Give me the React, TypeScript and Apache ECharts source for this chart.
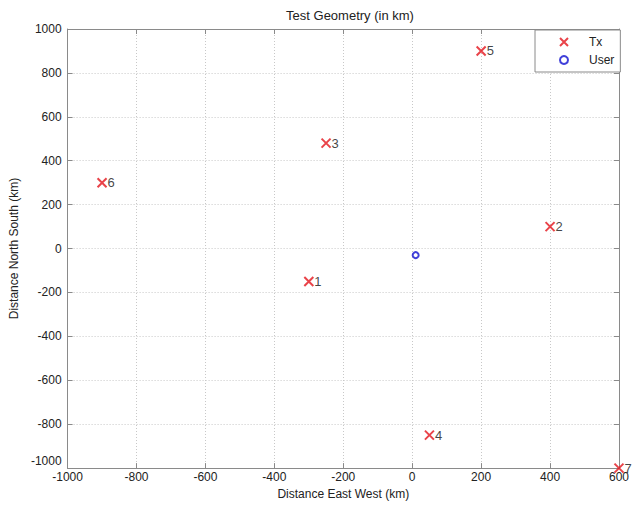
import React, { useEffect, useRef } from "react";
import * as echarts from "echarts";

const txNames = ["1", "2", "3", "4", "5", "6", "7"];
const txX = [-300, 400, -250, 50, 200, -900, 600];
const txY = [-150, 100, 480, -850, 900, 300, -1000];
const userX = [10];
const userY = [-30];
const xMin = -1000, xMax = 600, yMin = -1000, yMax = 1000, step = 200;

const FONT = "Liberation Sans, Arial, sans-serif";
const CROSS = "path://M0,0L10,10M0,10L10,0";

export default function App() {
  const ref = useRef<HTMLDivElement>(null);
  useEffect(() => {
    if (!ref.current) return;
    const chart = echarts.init(ref.current, undefined, { renderer: "svg" });
    const axisLine = { show: true, onZero: false, lineStyle: { color: "#8a8a8a", width: 1 } };
    const tick = { show: true, inside: true, length: 5, lineStyle: { color: "#8a8a8a" } };
    const label = { color: "#222", fontSize: 12, fontFamily: FONT };
    const split = { show: true, lineStyle: { color: "#c8c8c8", type: [1, 2] as any, width: 1 } };
    chart.setOption({
      animation: false,
      backgroundColor: "#fff",
      textStyle: { fontFamily: FONT },
      title: {
        text: "Test Geometry (in km)",
        left: 345,
        textAlign: "center",
        top: 4,
        textStyle: { fontSize: 13, fontWeight: "normal", color: "#222", fontFamily: FONT },
      },
      grid: { left: 62, top: 29, right: 9, bottom: 35, containLabel: false },
      legend: {
        left: 535,
        top: 30,
        orient: "vertical",
        backgroundColor: "#fff",
        borderColor: "#8a8a8a",
        borderWidth: 1,
        borderRadius: 0,
        padding: [6, 6, 6, 24],
        itemWidth: 8,
        itemHeight: 8,
        itemGap: 6,
        textStyle: { fontSize: 12, color: "#222", fontFamily: FONT, padding: [0, 0, 0, 16] },
        data: ["Tx", "User"],
      },
      xAxis: [
        {
          type: "value", min: xMin, max: xMax, interval: step,
          name: "Distance East West (km)", nameLocation: "middle", nameGap: 18,
          nameTextStyle: { fontSize: 12, color: "#222", fontFamily: FONT },
          axisLine, axisTick: tick,
          axisLabel: { ...label, margin: 3, formatter: (v: number) => String(v) },
          splitLine: split,
        },
        {
          type: "value", min: xMin, max: xMax, interval: step, position: "top",
          axisLine, axisTick: tick, axisLabel: { show: false }, splitLine: { show: false },
        },
      ],
      yAxis: [
        {
          type: "value", min: yMin, max: yMax, interval: step,
          name: "Distance North South (km)", nameLocation: "middle", nameGap: 42,
          nameTextStyle: { fontSize: 12, color: "#222", fontFamily: FONT },
          axisLine, axisTick: tick,
          axisLabel: {
            ...label, margin: 6,
            formatter: (v: number) => (v === yMin ? "{low|" + v + "}" : String(v)),
            rich: { low: { color: "#222", fontSize: 12, fontFamily: FONT, padding: [0, 0, 14, 0] } },
          },
          splitLine: split,
        },
        {
          type: "value", min: yMin, max: yMax, interval: step, position: "right",
          axisLine, axisTick: tick, axisLabel: { show: false }, splitLine: { show: false },
        },
      ],
      series: [
        {
          name: "Tx",
          type: "scatter",
          xAxisIndex: 0,
          yAxisIndex: 0,
          symbol: CROSS,
          symbolSize: 9,
          itemStyle: { color: "transparent", borderColor: "#e3141b", borderWidth: 2 },
          label: {
            show: true, position: "right", distance: 0,
            formatter: (p: any) => p.value[2],
            fontSize: 13, color: "#111", fontFamily: FONT,
          },
          data: txX.map((x, i) => [x, txY[i], txNames[i]]),
        },
        {
          name: "User",
          type: "scatter",
          xAxisIndex: 0,
          yAxisIndex: 0,
          symbol: "circle",
          symbolSize: 6,
          itemStyle: { color: "transparent", borderColor: "#1010d0", borderWidth: 2 },
          data: userX.map((x, i) => [x, userY[i]]),
        },
      ],
    });
    return () => chart.dispose();
  }, []);
  return <div ref={ref} style={{ width: 632, height: 505, position: "absolute", left: 0, top: 0 }} />;
}
